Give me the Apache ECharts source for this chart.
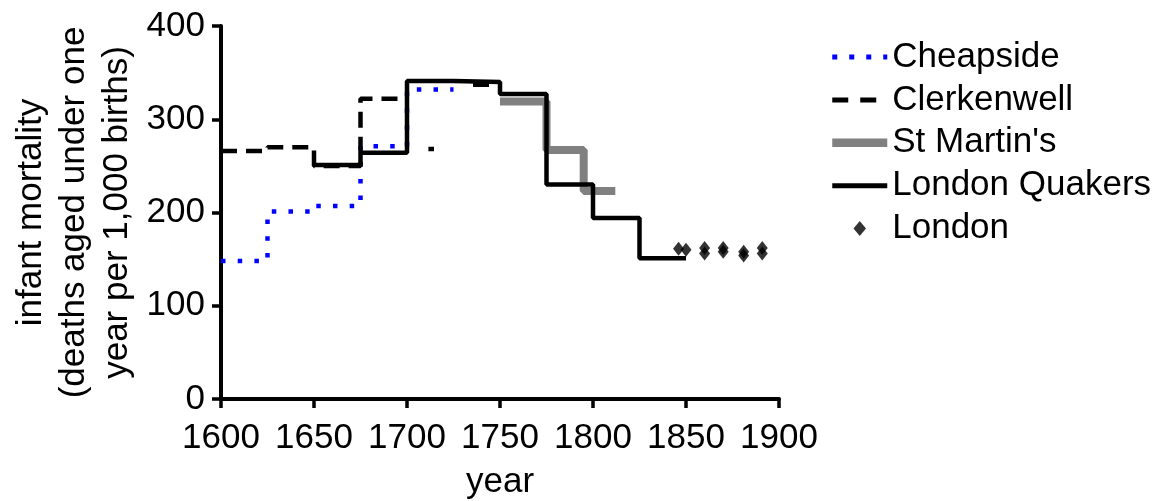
<!DOCTYPE html>
<html><head><meta charset="utf-8">
<script src="https://cdn.jsdelivr.net/npm/echarts@6/dist/echarts.min.js"></script>
<style>html,body{margin:0;padding:0;background:#fff;}#c{width:1156px;height:501px;}</style>
</head><body><div id="c"></div>
<script>
// ---- data ----
const xTickMin = 1600, xTickMax = 1900, xTickStep = 50;
const yTickMin = 0, yTickMax = 400, yTickStep = 100;

const cheapsideStart = [1600, 1625, 1650, 1675, 1700];
const cheapsideEnd   = [1625, 1650, 1675, 1700, 1725];
const cheapsideValue = [148, 201, 207, 271, 332];

const clerkenwellStart = [1600, 1625, 1650, 1675, 1711.5, 1735.5];
const clerkenwellEnd   = [1625, 1650, 1675, 1700, 1714.5, 1744.5];
const clerkenwellValue = [266, 270, 250, 322, 268, 337];

const stMartinsStart = [1750, 1775, 1795];
const stMartinsEnd   = [1775, 1795, 1812];
const stMartinsValue = [319, 267, 223];

const quakersStart = [1650, 1675, 1700, 1725, 1750, 1775, 1800, 1825];
const quakersEnd   = [1675, 1700, 1725, 1750, 1775, 1800, 1825, 1850];
const quakersValue = [251, 264, 341, 340, 327, 230, 194, 151];

const londonYear  = [1846, 1850, 1860, 1860, 1870, 1870, 1881, 1881, 1891, 1891];
const londonValue = [161, 160, 162, 156, 162, 158, 158, 154, 162, 156];

// ---- build step polylines from the period arrays ----
function steps(starts, ends, vals) {
  const pts = [];
  for (let i = 0; i < starts.length; i++) {
    if (i > 0 && starts[i] !== ends[i - 1]) pts.push([starts[i], '-']);
    pts.push([starts[i], vals[i]]);
    pts.push([ends[i], vals[i]]);
  }
  return pts;
}
const FONT = 'Liberation Sans, Arial, sans-serif';
const FS = 35;
const chart = echarts.init(document.getElementById('c'), null, {renderer: 'canvas'});
const lineBase = {type: 'line', symbol: 'none', showSymbol: false, connectNulls: false, animation: false, emphasis: {disabled: true}};
chart.setOption({
  animation: false,
  backgroundColor: '#fff',
  grid: {left: 221, right: 377, top: 26, bottom: 102, containLabel: false, outerBoundsMode: 'none'},
  legend: {
    orient: 'vertical', left: 828, top: 39.5, padding: 0, itemWidth: 55, itemHeight: 15, itemGap: 7.9,
    selectedMode: false, symbolKeepAspect: true,
    textStyle: {fontFamily: FONT, fontSize: FS, color: '#000', lineHeight: 34},
    data: [
      {name: 'Cheapside', itemStyle: {opacity: 0}, lineStyle: {width: 5, type: [5, 12], color: '#0000ff'}},
      {name: 'Clerkenwell', itemStyle: {opacity: 0}, lineStyle: {width: 5, type: [16, 12], color: '#000'}},
      {name: "St Martin's", itemStyle: {opacity: 0}, lineStyle: {width: 8.5, type: 'solid', color: '#808080'}},
      {name: 'London Quakers', itemStyle: {opacity: 0}, lineStyle: {width: 5, type: 'solid', color: '#000'}},
      {name: 'London', icon: 'path://M5,0L10,6L5,12L0,6Z', itemStyle: {color: '#000'}}
    ]
  },
  xAxis: {
    type: 'value', min: xTickMin, max: xTickMax, interval: xTickStep,
    name: 'year', nameLocation: 'middle', nameGap: 66,
    nameTextStyle: {fontFamily: FONT, fontSize: FS, color: '#000', lineHeight: 34},
    axisLine: {show: true, onZero: false, lineStyle: {color: '#000', width: 4}},
    axisTick: {show: true, inside: false, length: 9, lineStyle: {color: '#000', width: 3.5}},
    axisLabel: {fontFamily: FONT, fontSize: FS, color: '#000', margin: 22, lineHeight: 34,
      formatter: v => String(v)},
    splitLine: {show: false}
  },
  yAxis: {
    type: 'value', min: yTickMin, max: yTickMax, interval: yTickStep,
    name: 'infant mortality\n(deaths aged under one\nyear per 1,000 births)', nameLocation: 'middle', nameGap: 82,
    nameTextStyle: {fontFamily: FONT, fontSize: FS, color: '#000', lineHeight: 43},
    axisLine: {show: true, onZero: false, lineStyle: {color: '#000', width: 4}},
    axisTick: {show: true, inside: false, length: 9, lineStyle: {color: '#000', width: 3.5}},
    axisLabel: {fontFamily: FONT, fontSize: FS, color: '#000', margin: 16, lineHeight: 34,
      formatter: v => String(v)},
    splitLine: {show: false}
  },
  series: [
    Object.assign({}, lineBase, {name: 'Cheapside', data: steps(cheapsideStart, cheapsideEnd, cheapsideValue),
      lineStyle: {color: '#0000ff', width: 4.5, type: [4.5, 12.2], cap: 'butt'}, itemStyle: {color: '#0000ff'}}),
    Object.assign({}, lineBase, {name: 'Clerkenwell', data: steps(clerkenwellStart, clerkenwellEnd, clerkenwellValue),
      lineStyle: {color: '#000', width: 4.5, type: [16, 9], cap: 'butt'}, itemStyle: {color: '#000'}}),
    Object.assign({}, lineBase, {name: "St Martin's", data: steps(stMartinsStart, stMartinsEnd, stMartinsValue),
      lineStyle: {color: '#808080', width: 8, type: 'solid', cap: 'butt'}, itemStyle: {color: '#808080'}}),
    Object.assign({}, lineBase, {name: 'London Quakers', data: steps(quakersStart, quakersEnd, quakersValue),
      lineStyle: {color: '#000', width: 4.5, type: 'solid', cap: 'butt'}, itemStyle: {color: '#000'}}),
    {type: 'scatter', name: 'London', symbol: 'diamond', symbolSize: [11, 14], animation: false,
      itemStyle: {color: '#000'}, emphasis: {disabled: true},
      data: londonYear.map((y, i) => [y, londonValue[i]])}
  ]
});
</script></body></html>
